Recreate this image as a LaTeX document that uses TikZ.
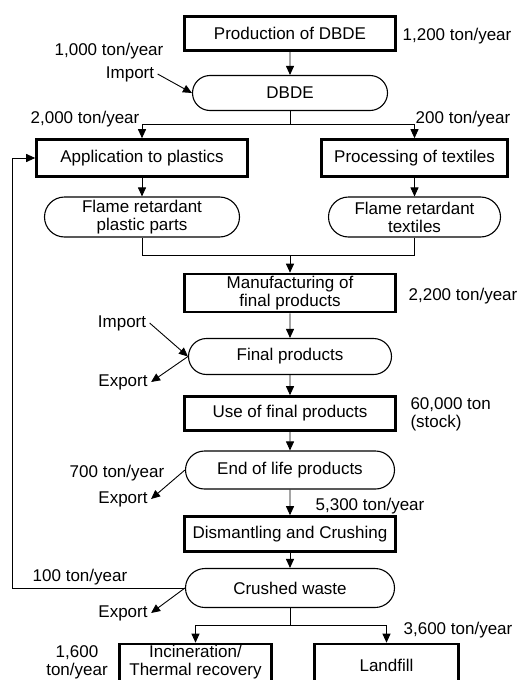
\documentclass[tikz,border=0pt]{standalone}
\usepackage{fontspec}
\setmainfont{Liberation Sans}
\usetikzlibrary{arrows.meta,shapes.misc}
\tikzset{
    procbox/.style={draw, line width=2.6pt, inner sep=0pt, align=center},
    pool/.style={draw, rounded rectangle, line width=1.1pt, inner sep=0pt, align=center},
    flow/.style={line width=0.9pt, -{Triangle[length=9pt,width=8pt]}},
    link/.style={line width=0.9pt},
}

\begin{document}
\begin{tikzpicture}[x=1pt, y=-1pt, font=\fontsize{17}{18}\selectfont]
        \clip (0,0) rectangle (522,680);

        \node[procbox, minimum width=211pt, minimum height=34pt] (prod) at (290,33.5) {Production of DBDE};
        \node (prodamt) at (457,36) {1,200 ton/year};
        \node[pool, minimum width=195pt, minimum height=35pt] (dbde) at (290,93) {DBDE};
        \node (impamt) at (109,51) {1,000 ton/year};
        \node (imp1) at (130,74) {Import};
        \draw[flow] (prod) -- (dbde);
        \draw[flow] (imp1.east) -- (dbde.west);

        \coordinate (split1) at (290,124);
        \node (plastamt) at (85,119) {2,000 ton/year};
        \node (textamt) at (463,119) {200 ton/year};
        \node[procbox, minimum width=211pt, minimum height=37pt] (app) at (142,158) {Application to plastics};
        \node[procbox, minimum width=186pt, minimum height=37pt] (proc) at (414.5,158) {Processing of textiles};
        \draw[link] (dbde) -- (split1);
        \draw[flow] (split1) -| (app.north);
        \draw[flow] (split1) -| (proc.north);

        \node[pool, minimum width=195pt, minimum height=40pt] (frplast) at (142,217) {Flame retardant\\plastic parts};
        \node[pool, minimum width=172pt, minimum height=40pt] (frtext) at (414.5,217) {Flame retardant\\textiles};
        \draw[flow] (app) -- (frplast);
        \draw[flow] (proc) -- (frtext);

        \coordinate (merge) at (290,255);
        \node[procbox, minimum width=211pt, minimum height=38pt] (manuf) at (290,293) {Manufacturing of\\final products};
        \node (manufamt) at (463,296) {2,200 ton/year};
        \draw[link] (frplast.south) |- (merge);
        \draw[link] (frtext.south) |- (merge);
        \draw[flow] (merge) -- (manuf);

        \node[pool, minimum width=203pt, minimum height=36pt] (final) at (290,356.5) {Final products};
        \node (imp2) at (122,323) {Import};
        \node (exp1) at (123,382) {Export};
        \draw[flow] (manuf) -- (final);
        \draw[flow] (imp2.east) -- (final.west);
        \draw[flow] (final.west) -- (exp1.east);

        \node[procbox, minimum width=211pt, minimum height=34pt] (use) at (290,413.5) {Use of final products};
        \node[anchor=west, align=left] (stock) at (407,414) {60,000 ton\\(stock)};
        \draw[flow] (final) -- (use);

        \node[pool, minimum width=209pt, minimum height=38pt] (eol) at (290,470) {End of life products};
        \node (eolamt) at (117,473) {700 ton/year};
        \node (exp2) at (123,499) {Export};
        \draw[flow] (use) -- (eol);
        \draw[flow] (eol.west) -- (exp2.east);

        \node[procbox, minimum width=211pt, minimum height=35pt] (dism) at (290,534) {Dismantling and Crushing};
        \node (dismamt) at (370,506) {5,300 ton/year};
        \draw[flow] (eol) -- (dism);

        \node[pool, minimum width=209pt, minimum height=39pt] (crush) at (290,588) {Crushed waste};
        \node (backamt) at (80,577) {100 ton/year};
        \node (exp3) at (123,613) {Export};
        \coordinate (loop) at (12,588);
        \draw[flow] (dism) -- (crush);
        \draw[flow] (crush.west) -- (loop) |- (app.west);
        \draw[flow] (crush.west) -- (exp3.east);

        \coordinate (split2) at (290,625);
        \node[procbox, minimum width=152pt, minimum height=42pt, text depth=9pt] (incin) at (195.5,665) {Incineration/\\Thermal recovery};
        \node[procbox, minimum width=144pt, minimum height=42pt] (landfill) at (386.5,665) {Landfill};
        \node[align=center] (incinamt) at (77,662) {1,600\\ton/year};
        \node (landamt) at (458,630) {3,600 ton/year};
        \draw[link] (crush) -- (split2);
        \draw[flow] (split2) -| (incin.north);
        \draw[flow] (split2) -| (landfill.north);
\end{tikzpicture}
\end{document}
